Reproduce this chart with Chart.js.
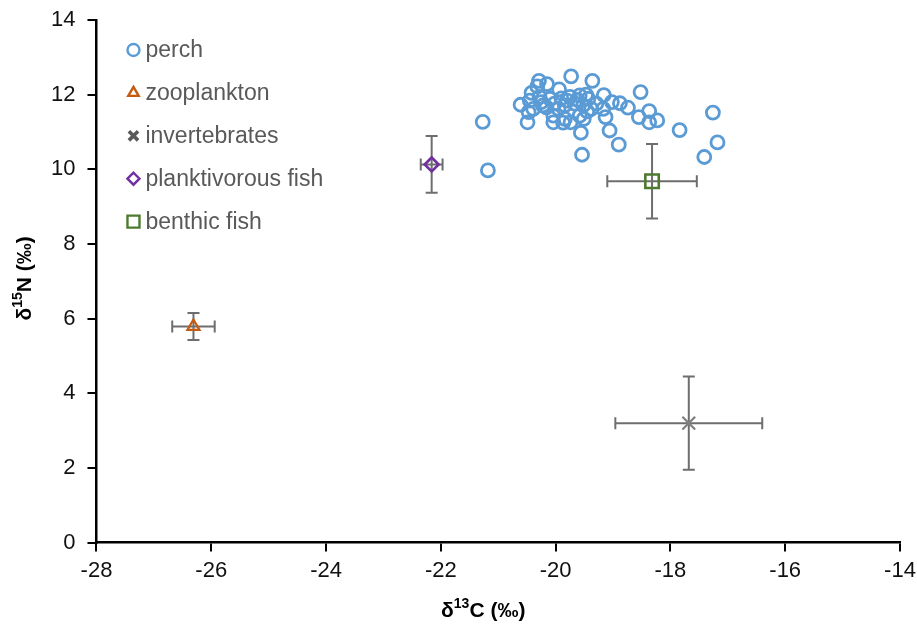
<!DOCTYPE html>
<html lang="en">
<head>
  <meta charset="UTF-8" />
  <title>Stable isotopes</title>
  <script src="https://cdn.jsdelivr.net/npm/chart.js"></script>
  <style>
    html, body { margin: 0; padding: 0; background: #fff; }
    #wrap { width: 917px; height: 628px; }
  </style>
</head>
<body>
  <div id="wrap"><canvas id="isoChart" width="917" height="628"></canvas></div>

  <script>
    // perch individuals
    const perchC = [-21.27, -21.18, -20.29, -20.15, -19.73, -19.36, -18.52, -17.26, -17.18, -17.41,
      -17.84, -18.23, -18.37, -18.37, -18.55, -18.74, -18.88, -19.02, -19.16, -19.13,
      -19.06, -18.90, -19.54, -19.56, -19.51, -19.74, -19.87, -20.04, -20.49, -20.47,
      -20.61, -20.42, -19.94, -20.45, -20.28, -20.10, -19.75, -19.58, -19.43, -19.29,
      -20.39, -20.22, -20.02, -19.84, -19.67, -19.52, -19.38, -19.17, -20.04, -19.84,
      -19.58, -20.25, -19.95, -19.62, -19.47, -20.16, -19.80, -19.45, -20.32, -19.90];
    const perchN = [11.27, 9.97, 12.37, 12.28, 12.49, 12.37, 12.07, 11.52, 10.72, 10.33,
      11.05, 11.31, 11.56, 11.26, 11.40, 11.65, 11.77, 11.80, 11.99, 11.40,
      11.04, 10.66, 10.39, 10.98, 11.35, 11.26, 11.25, 11.26, 11.26, 11.53,
      11.73, 12.05, 12.14, 11.84, 11.94, 11.89, 11.94, 11.98, 11.89, 11.76,
      11.62, 11.71, 11.76, 11.71, 11.76, 11.71, 11.62, 11.62, 11.44, 11.35,
      11.44, 11.80, 11.62, 11.86, 12.00, 11.66, 11.84, 11.55, 12.22, 11.90];

    // group means with SD (x error = C, y error = N)
    const groups = ["zooplankton", "invertebrates", "planktivorous fish", "benthic fish"];
    const meanC = [-26.31, -17.68, -22.16, -18.32];
    const meanN = [5.79, 3.2, 10.13, 9.68];
    const sdC = [0.37, 1.28, 0.19, 0.78];
    const sdN = [0.36, 1.25, 0.76, 1.0];

    const xTicks = [-28, -26, -24, -22, -20, -18, -16, -14];
    const yTicks = [0, 2, 4, 6, 8, 10, 12, 14];

    const legendLabels = ["perch", "zooplankton", "invertebrates", "planktivorous fish", "benthic fish"];

    const FONT = "'Liberation Sans', Arial, sans-serif";

    const styles = [
      { color: "#5B9BD5", point: "circle", r: 6.5, bw: 2.8 },
      { color: "#C55A11", point: "triangle", r: 7, bw: 2.2 },
      { color: "#7F7F7F", point: "crossRot", r: 9, bw: 2.2 },
      { color: "#7030A0", point: "rectRot", r: 7, bw: 2.6 },
      { color: "#4E7A2E", point: "rect", r: 9.5, bw: 2.6 }
    ];

    const datasets = [{
      label: legendLabels[0],
      data: perchC.map((c, i) => ({ x: c, y: perchN[i] })),
      pointStyle: styles[0].point,
      pointRadius: styles[0].r,
      borderColor: styles[0].color,
      borderWidth: styles[0].bw,
      backgroundColor: "rgba(255,255,255,0)"
    }];
    groups.forEach((g, i) => {
      const s = styles[i + 1];
      datasets.push({
        label: g,
        data: [{ x: meanC[i], y: meanN[i], ex: sdC[i], ey: sdN[i] }],
        pointStyle: s.point,
        pointRadius: s.r,
        borderColor: s.color,
        borderWidth: s.bw,
        backgroundColor: "rgba(255,255,255,0)"
      });
    });

    const errorBars = {
      id: "errorBars",
      beforeDatasetsDraw(chart) {
        const ctx = chart.ctx;
        const xs = chart.scales.x, ys = chart.scales.y;
        ctx.save();
        ctx.strokeStyle = "#6e6e6e";
        ctx.lineWidth = 2;
        const cap = 6;
        chart.data.datasets.forEach(ds => {
          ds.data.forEach(p => {
            if (p.ex === undefined) return;
            const cx = xs.getPixelForValue(p.x), cy = ys.getPixelForValue(p.y);
            const x0 = xs.getPixelForValue(p.x - p.ex), x1 = xs.getPixelForValue(p.x + p.ex);
            const y0 = ys.getPixelForValue(p.y - p.ey), y1 = ys.getPixelForValue(p.y + p.ey);
            ctx.beginPath();
            ctx.moveTo(x0, cy); ctx.lineTo(x1, cy);
            ctx.moveTo(x0, cy - cap); ctx.lineTo(x0, cy + cap);
            ctx.moveTo(x1, cy - cap); ctx.lineTo(x1, cy + cap);
            ctx.moveTo(cx, y0); ctx.lineTo(cx, y1);
            ctx.moveTo(cx - cap, y0); ctx.lineTo(cx + cap, y0);
            ctx.moveTo(cx - cap, y1); ctx.lineTo(cx + cap, y1);
            ctx.stroke();
          });
        });
        ctx.restore();
      }
    };

    // legend drawn inside the plot, top left
    const insideLegend = {
      id: "insideLegend",
      afterDraw(chart) {
        const ctx = chart.ctx;
        const left = chart.chartArea.left;
        const top = chart.chartArea.top;
        ctx.save();
        ctx.font = "23px " + FONT;
        ctx.textBaseline = "middle";
        legendLabels.forEach((lab, i) => {
          const s = styles[i];
          const y = top + 30 + i * 42.9;
          const mx = left + 37;
          const isX = i === 2;
          ctx.strokeStyle = isX ? "#595959" : s.color;
          ctx.fillStyle = "rgba(255,255,255,0)";
          ctx.lineWidth = isX ? 3.6 : 2.4;
          Chart.helpers.drawPoint(ctx, {
            pointStyle: s.point,
            radius: isX ? 6.5 : (s.point === "rect" ? 8.5 : 6),
            rotation: 0,
            borderWidth: ctx.lineWidth
          }, mx, y);
          ctx.fillStyle = "#595959";
          ctx.fillText(lab, mx + 12, y + 1);
        });
        ctx.restore();
      }
    };

    // axis titles with real superscripts
    function drawSup(ctx, parts, size) {
      let w = 0;
      parts.forEach(p => {
        ctx.font = "bold " + (p.sup ? Math.round(size * 0.65) : size) + "px " + FONT;
        p.w = ctx.measureText(p.t).width;
        w += p.w;
      });
      let x = -w / 2;
      parts.forEach(p => {
        ctx.font = "bold " + (p.sup ? Math.round(size * 0.65) : size) + "px " + FONT;
        ctx.fillText(p.t, x, p.sup ? -size * 0.33 : 0);
        x += p.w;
      });
    }

    const axisTitles = {
      id: "axisTitles",
      afterDraw(chart) {
        const ctx = chart.ctx;
        const a = chart.chartArea;
        ctx.save();
        ctx.fillStyle = "#000";
        ctx.textBaseline = "middle";
        ctx.textAlign = "left";
        ctx.save();
        ctx.translate((a.left + a.right) / 2 - 15, 611);
        drawSup(ctx, [{ t: "δ" }, { t: "13", sup: true }, { t: "C (‰)" }], 21);
        ctx.restore();
        ctx.save();
        ctx.translate(25, (a.top + a.bottom) / 2 - 3);
        ctx.rotate(-Math.PI / 2);
        drawSup(ctx, [{ t: "δ" }, { t: "15", sup: true }, { t: "N (‰)" }], 21);
        ctx.restore();
        ctx.restore();
      }
    };

    const axisFont = { family: FONT, size: 22 };

    new Chart(document.getElementById("isoChart").getContext("2d"), {
      type: "scatter",
      data: { datasets: datasets },
      options: {
        responsive: false,
        animation: false,
        layout: { padding: { top: 0, right: 0, left: 39, bottom: 38 } },
        plugins: {
          legend: { display: false },
          tooltip: { enabled: false }
        },
        scales: {
          x: {
            type: "linear",
            min: -28, max: -14,
            afterBuildTicks: axis => { axis.ticks = xTicks.map(v => ({ value: v })); },
            afterFit: axis => { axis.paddingRight = 17; },
            grid: { display: true, drawOnChartArea: false, drawTicks: true, tickLength: 9, color: "#000", lineWidth: 2 },
            border: { color: "#000", width: 2.5 },
            ticks: { color: "#111", font: axisFont, padding: 6 }
          },
          y: {
            type: "linear",
            min: 0, max: 14,
            afterBuildTicks: axis => { axis.ticks = yTicks.map(v => ({ value: v })); },
            afterFit: axis => { axis.paddingTop = 20; },
            grid: { display: true, drawOnChartArea: false, drawTicks: true, tickLength: 9, color: "#000", lineWidth: 2 },
            border: { color: "#000", width: 2.5 },
            ticks: { color: "#111", font: axisFont, padding: 12 }
          }
        }
      },
      plugins: [errorBars, insideLegend, axisTitles]
    });
  </script>
</body>
</html>
